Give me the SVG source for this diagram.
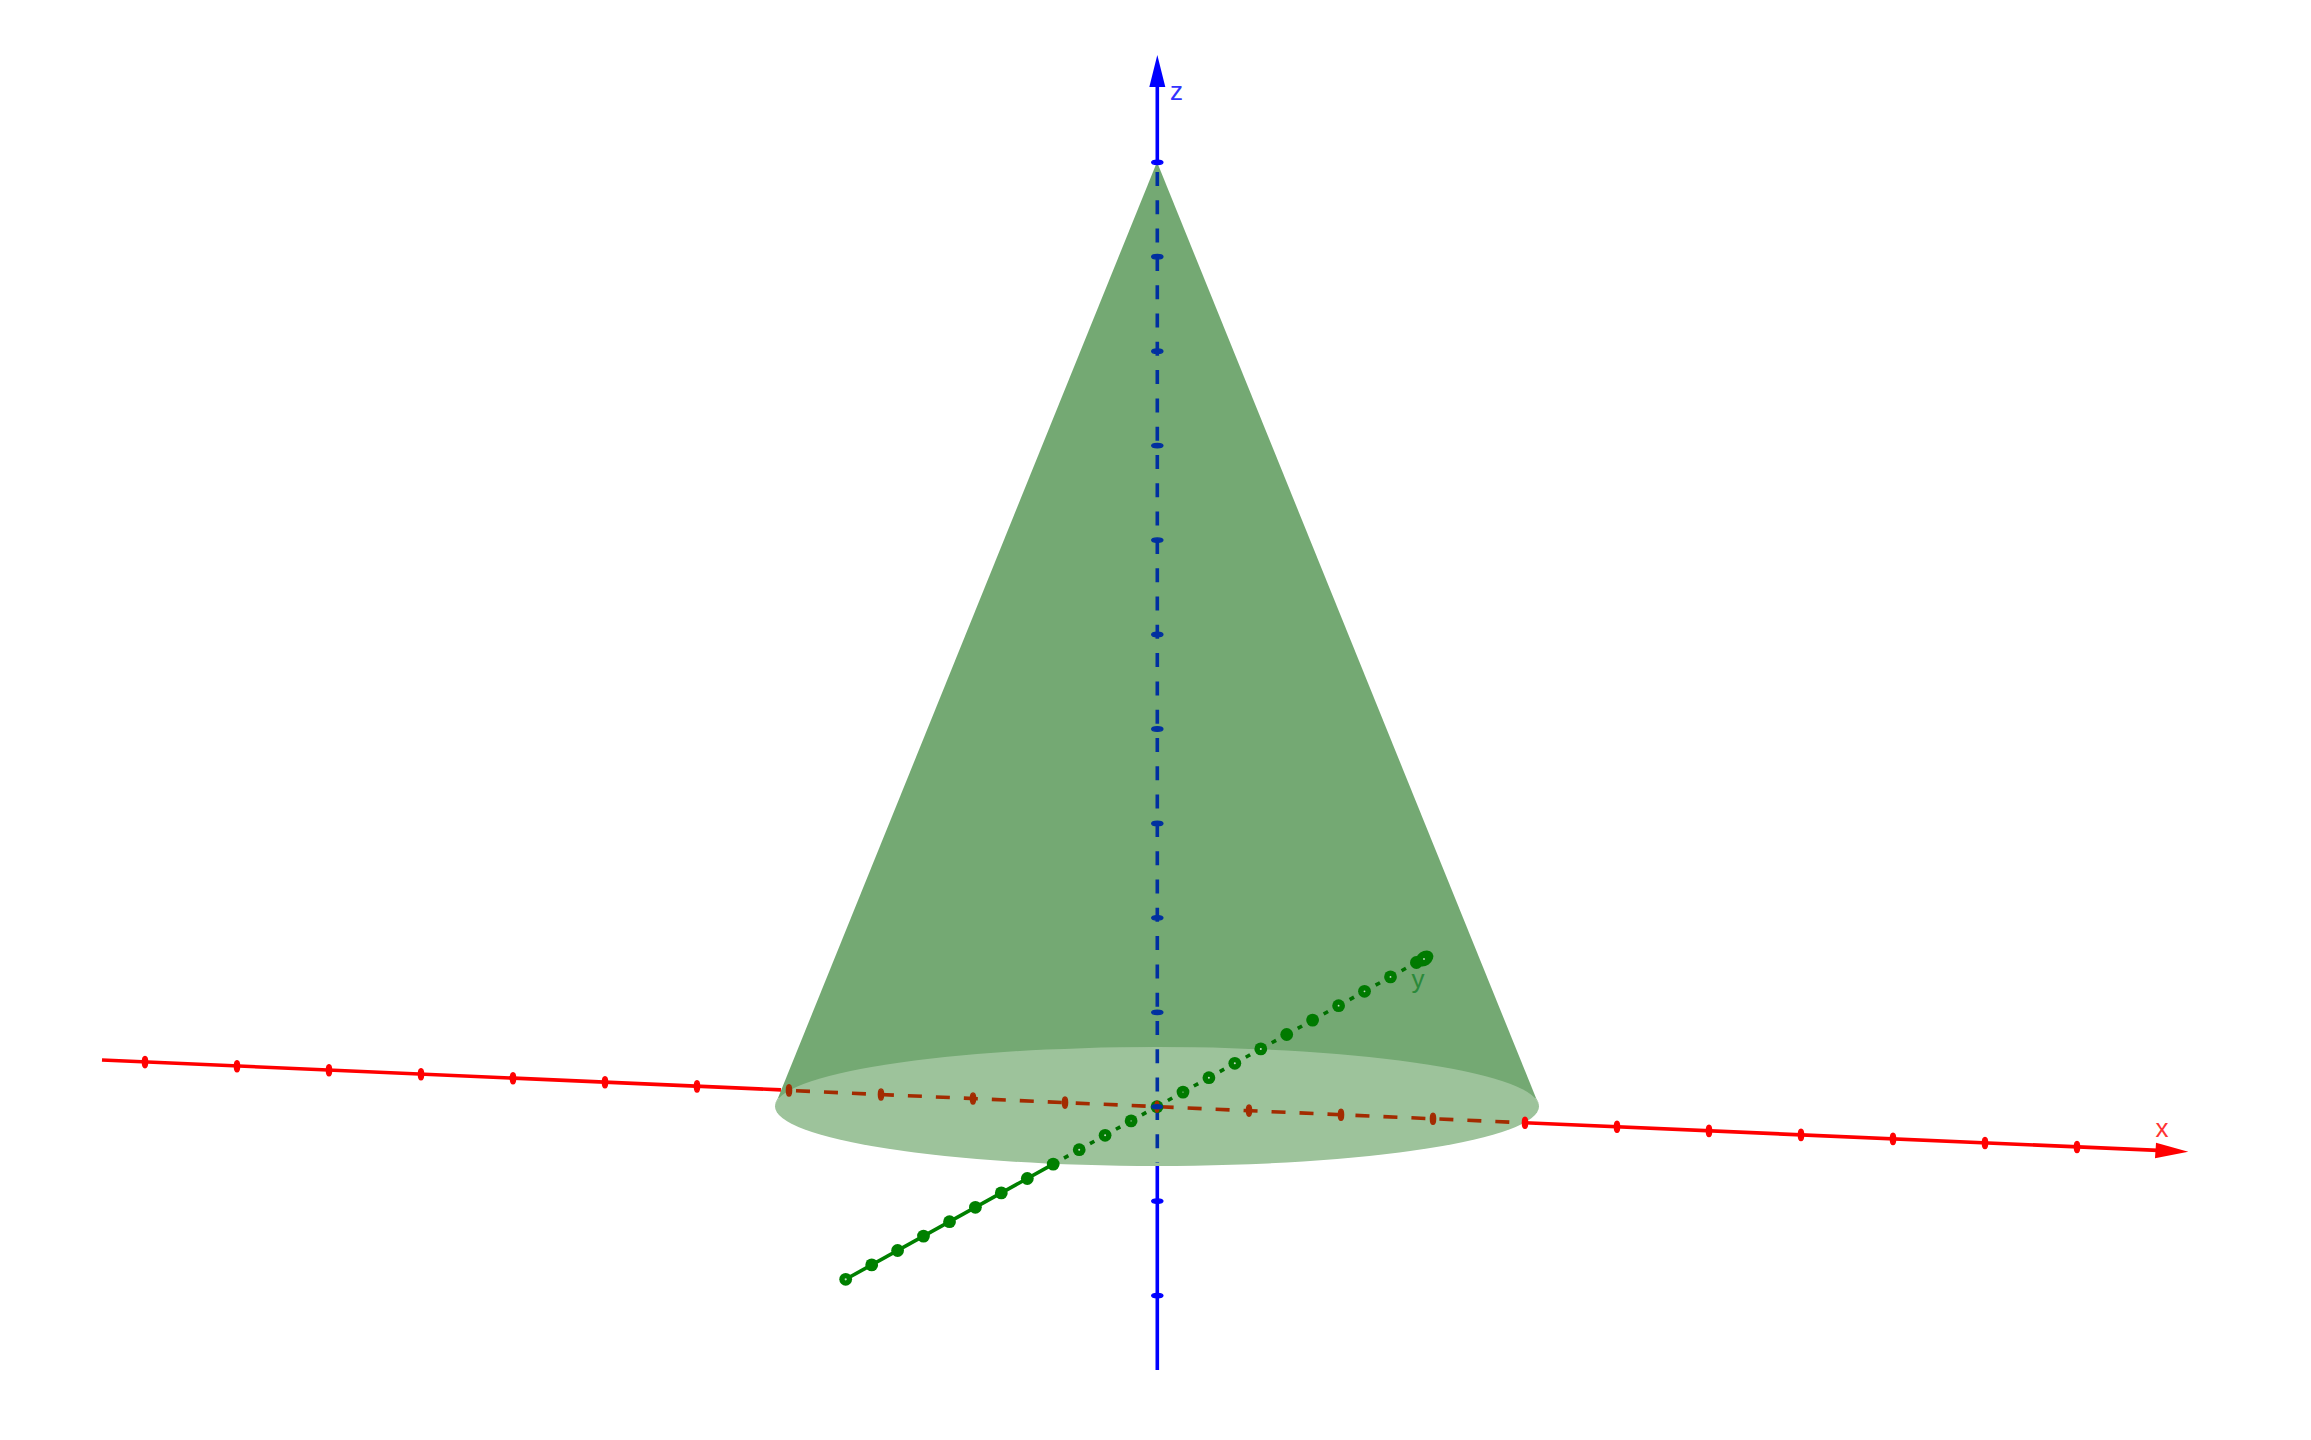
<svg xmlns="http://www.w3.org/2000/svg" width="2311" height="1440" viewBox="0 0 2311 1440">
<style>
.lab{font-family:"Liberation Sans",Arial,sans-serif;font-size:26px}
.rs{stroke:#f00;stroke-width:3.6;fill:none}
.rh{stroke:#a32b00;stroke-width:3.6;fill:none;stroke-dasharray:14 14}
.bs{stroke:#00f;stroke-width:3.6;fill:none}
.bh{stroke:#0030a0;stroke-width:3.6;fill:none;stroke-dasharray:14 14.3}
.gs{stroke:#008000;stroke-width:3.6;fill:none}
.gh{stroke:#007000;stroke-width:3.6;fill:none;stroke-dasharray:5 9.85;stroke-dashoffset:2.5}
.tr{fill:#f00;stroke:#f00;stroke-width:1.4}.trh{fill:#a32b00;stroke:#a32b00;stroke-width:1.4}
.tb{fill:#00f;stroke:#00f;stroke-width:1.4}.tbh{fill:#0030a0;stroke:#0030a0;stroke-width:1.4}
.dg{fill:#008000}.dh{fill:#007a00}
.hole{fill:#c4dcc4}
</style>
<g id="cone">
<path d="M1157 162 L778 1098 L1536 1098 Z" fill="#74a973"/>
<path d="M778 1098 Q775 1102 775 1106.5 A382 59.5 0 0 1 1539 1106.5 Q1539 1102 1536 1098 Z" fill="#74a973"/>
</g>
<g id="base">
<ellipse cx="1157" cy="1106.5" rx="382" ry="59.5" fill="#9dc39b"/>
</g>
<g id="connectors">
<g id="x-axis">
<path class="rs" d="M102 1060 L781 1089.9"/>
<path class="rs" d="M1525 1122.8 L2158 1150.4"/>
<path class="rh" d="M796 1090.8 L1525 1122.8"/>
<path d="M2156 1142.7 L2188.3 1151.7 L2155 1158.3 Z" fill="#f00"/>
<g class="tr">
<ellipse cx="145" cy="1062.1" rx="2.6" ry="5.6"/><ellipse cx="237" cy="1066.2" rx="2.6" ry="5.6"/><ellipse cx="329" cy="1070.2" rx="2.6" ry="5.6"/><ellipse cx="421" cy="1074.2" rx="2.6" ry="5.6"/><ellipse cx="513" cy="1078.3" rx="2.6" ry="5.6"/><ellipse cx="605" cy="1082.3" rx="2.6" ry="5.6"/><ellipse cx="697" cy="1086.4" rx="2.6" ry="5.6"/>
<ellipse cx="1525" cy="1122.8" rx="2.6" ry="5.6"/><ellipse cx="1617" cy="1126.8" rx="2.6" ry="5.6"/><ellipse cx="1709" cy="1130.9" rx="2.6" ry="5.6"/><ellipse cx="1801" cy="1134.9" rx="2.6" ry="5.6"/><ellipse cx="1893" cy="1138.9" rx="2.6" ry="5.6"/><ellipse cx="1985" cy="1143" rx="2.6" ry="5.6"/><ellipse cx="2077" cy="1147" rx="2.6" ry="5.6"/>
</g>
<g class="trh">
<ellipse cx="789" cy="1090.4" rx="2.6" ry="5.6"/><ellipse cx="881" cy="1094.5" rx="2.6" ry="5.6"/><ellipse cx="973" cy="1098.5" rx="2.6" ry="5.6"/><ellipse cx="1065" cy="1102.6" rx="2.6" ry="5.6"/><ellipse cx="1249" cy="1110.6" rx="2.6" ry="5.6"/><ellipse cx="1341" cy="1114.7" rx="2.6" ry="5.6"/><ellipse cx="1433" cy="1118.7" rx="2.6" ry="5.6"/>
</g>
</g>
<g id="z-axis">
<path class="bs" d="M1157.3 85 L1157.3 162"/>
<path class="bs" d="M1157.3 1166 L1157.3 1370"/>
<path class="bh" d="M1157.3 172 L1157.3 1163"/>
<path d="M1157.3 55 L1165.3 87 L1149.3 87 Z" fill="#00f"/>
<g class="tb">
<ellipse cx="1157.3" cy="162.3" rx="5.6" ry="2.2"/><ellipse cx="1157.3" cy="1201.1" rx="5.6" ry="2.2"/><ellipse cx="1157.3" cy="1295.6" rx="5.6" ry="2.2"/>
</g>
<g class="tbh">
<ellipse cx="1157.3" cy="256.7" rx="5.6" ry="2.2"/><ellipse cx="1157.3" cy="351.2" rx="5.6" ry="2.2"/><ellipse cx="1157.3" cy="445.6" rx="5.6" ry="2.2"/><ellipse cx="1157.3" cy="540.1" rx="5.6" ry="2.2"/><ellipse cx="1157.3" cy="634.5" rx="5.6" ry="2.2"/><ellipse cx="1157.3" cy="729" rx="5.6" ry="2.2"/><ellipse cx="1157.3" cy="823.4" rx="5.6" ry="2.2"/><ellipse cx="1157.3" cy="917.8" rx="5.6" ry="2.2"/><ellipse cx="1157.3" cy="1012.3" rx="5.6" ry="2.2"/>
</g>
</g>
<g id="y-axis">
<path class="gs" d="M845.7 1279.3 L1053.2 1164.1"/>
<path class="gh" d="M1053.2 1164.1 L1416.4 962.5"/>
<ellipse cx="1424.5" cy="958.5" rx="9.5" ry="7.2" transform="rotate(-35 1424.5 958.5)" fill="#007a00"/>
<g class="dg">
<circle cx="845.7" cy="1279.3" r="6.4"/><circle cx="871.7" cy="1264.9" r="6.4"/><circle cx="897.6" cy="1250.5" r="6.4"/><circle cx="923.5" cy="1236.1" r="6.4"/><circle cx="949.5" cy="1221.7" r="6.4"/><circle cx="975.4" cy="1207.3" r="6.4"/><circle cx="1001.3" cy="1192.9" r="6.4"/><circle cx="1027.3" cy="1178.5" r="6.4"/><circle cx="1053.2" cy="1164.1" r="6.4"/>
</g>
<g class="dh">
<circle cx="1079.2" cy="1149.7" r="6.4"/><circle cx="1105.1" cy="1135.3" r="6.4"/><circle cx="1131.1" cy="1120.9" r="6.4"/><circle cx="1157" cy="1106.7" r="6.4"/><circle cx="1183" cy="1092.1" r="6.4"/><circle cx="1208.9" cy="1077.7" r="6.4"/><circle cx="1234.8" cy="1063.3" r="6.4"/><circle cx="1260.8" cy="1048.9" r="6.4"/><circle cx="1286.7" cy="1034.5" r="6.4"/><circle cx="1312.6" cy="1020.1" r="6.4"/><circle cx="1338.6" cy="1005.7" r="6.4"/><circle cx="1364.5" cy="991.3" r="6.4"/><circle cx="1390.5" cy="976.9" r="6.4"/><circle cx="1416.4" cy="962.5" r="6.4"/>
</g>
<g class="hole">
<circle cx="845.7" cy="1279.3" r="1.1"/><circle cx="1079.2" cy="1149.7" r="1"/><circle cx="1105.1" cy="1135.3" r="1"/><circle cx="1131.1" cy="1120.9" r="0.6"/><circle cx="1183" cy="1092.1" r="0.6"/><circle cx="1208.9" cy="1077.7" r="1"/><circle cx="1234.8" cy="1063.3" r="1"/><circle cx="1260.8" cy="1048.9" r="1"/><circle cx="1338.6" cy="1005.7" r="0.9"/><circle cx="1364.5" cy="991.3" r="0.9"/><circle cx="1390.5" cy="976.9" r="0.9"/><circle cx="1424" cy="959" r="0.9"/>
</g>
</g>
<g id="origin">
<ellipse class="trh" cx="1157" cy="1106.7" rx="2" ry="5.4"/>
<ellipse class="tbh" cx="1157" cy="1106.7" rx="5.2" ry="2"/>
</g>
</g>
<g id="labels">
<text class="lab" x="1170" y="100" fill="#3333ff">z</text>
<text class="lab" x="2155.5" y="1137" fill="#ff3333">x</text>
<text class="lab" x="1411.5" y="988" fill="#2a8a3a">y</text>
</g>
</svg>
